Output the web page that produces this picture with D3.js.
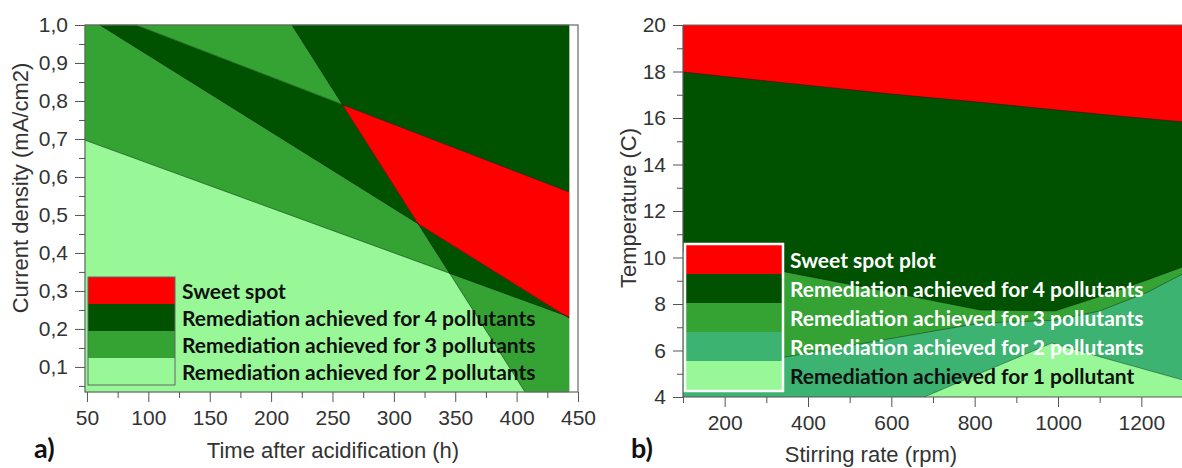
<!DOCTYPE html>
<html>
<head>
<meta charset="utf-8">
<script src="https://cdn.jsdelivr.net/npm/d3@7"></script>
<style>
  body { margin: 0; background: #fff; }
  svg { display: block; }
  .tick text { font-family: "Liberation Sans", Arial, sans-serif; font-size: 21px; fill: #333; }
  .tick line { stroke: #555; }
  .title { font-family: "Liberation Sans", Arial, sans-serif; font-size: 22px; fill: #333; }
  .leg { font-family: Lato, "Open Sans", sans-serif; font-weight: 700; font-size: 21px; }
  .panel { font-family: Lato, "Open Sans", sans-serif; font-weight: 700; font-size: 27px; fill: #111; }
</style>
</head>
<body>
<svg id="chart" width="1182" height="468"></svg>
<script>
// ---- panel a) data : time (h) vs current density (mA/cm2) ----
const timeTicks = [50, 100, 150, 200, 250, 300, 350, 400, 450];
const timeMinor = [75, 125, 175, 225, 275, 325, 375, 425];
const densityTicks = [0.1, 0.2, 0.3, 0.4, 0.5, 0.6, 0.7, 0.8, 0.9, 1.0];
const densityMinor = [0.05, 0.15, 0.25, 0.35, 0.45, 0.55, 0.65, 0.75, 0.85, 0.95];
const timeRange = [48.4, 442.7];      // extent of the response surface
const densityRange = [0.034, 1.0];
// contour boundaries: two points each, gain = side that adds one level
const boundaryA = [
  { pts: [[60.6, 1.0], [442.7, 0.229]], gain: 1 },
  { pts: [[89.9, 1.0], [442.7, 0.561]], gain: -1 },
  { pts: [[217.0, 1.0], [406.9, 0.034]], gain: 1 },
  { pts: [[48.4, 0.697], [442.7, 0.232]], gain: 1 }
];
const legendA = ['Sweet spot', 'Remediation achieved for 4 pollutants',
  'Remediation achieved for 3 pollutants', 'Remediation achieved for 2 pollutants'];

// ---- panel b) data : stirring rate (rpm) vs temperature (C) ----
const rpmTicks = [200, 400, 600, 800, 1000, 1200];
const rpmMinor = [100, 300, 500, 700, 900, 1100];
const tempTicks = [4, 6, 8, 10, 12, 14, 16, 18, 20];
const tempMinor = [5, 7, 9, 11, 13, 15, 17, 19];
const sweetEdgeRpm = [100, 350, 600, 800, 1000, 1150, 1300];
const sweetEdgeTemp = [17.98, 17.5, 17.03, 16.7, 16.34, 16.08, 15.83];
const fourEdgeRpm = [100, 345, 600, 813, 993, 1100, 1214, 1300];
const fourEdgeTemp = [10.25, 9.38, 8.5, 7.74, 7.7, 8.32, 9.03, 9.6];
const threeEdgeRpm = [100, 345, 600, 813, 993, 1100, 1214, 1300];
const threeEdgeTemp = [4.96, 5.72, 6.52, 7.18, 7.3, 7.7, 8.5, 9.3];
const oneEdgeRpm = [679, 758, 985, 1100, 1300];
const oneEdgeTemp = [4.0, 4.6, 6.32, 5.73, 4.73];
const legendB = ['Sweet spot plot', 'Remediation achieved for 4 pollutants',
  'Remediation achieved for 3 pollutants', 'Remediation achieved for 2 pollutants',
  'Remediation achieved for 1 pollutant'];

const RED = '#ff0000', DARK = '#005200', MED = '#34a334', TEAL = '#3cb371', LIGHT = '#98f898';
const levelColor = { 2: LIGHT, 3: MED, 4: DARK, 5: RED };

const svg = d3.select('#chart');
const comma = d3.formatLocale({ decimal: ',', thousands: '.', grouping: [3], currency: ['', ''] });

function clipPoly(poly, seg, keep) {
  const [[x1, y1], [x2, y2]] = seg;
  const s = (p) => keep * ((x2 - x1) * (p[1] - y1) - (y2 - y1) * (p[0] - x1));
  const out = [];
  poly.forEach((a, i) => {
    const b = poly[(i + 1) % poly.length];
    const sa = s(a), sb = s(b);
    if (sa >= 0) out.push(a);
    if ((sa >= 0) !== (sb >= 0)) {
      const t = sa / (sa - sb);
      out.push([a[0] + t * (b[0] - a[0]), a[1] + t * (b[1] - a[1])]);
    }
  });
  return out;
}

function drawAxes(g, x, y, xt, xm, yt, ym, xFmt, yFmt) {
  const [x0] = x.range(), [y0] = y.range();
  g.append('g').attr('transform', `translate(0,${y0})`)
    .call(d3.axisBottom(x).tickValues(xm).tickSize(6).tickFormat(''))
    .call((a) => a.select('.domain').remove());
  g.append('g').attr('transform', `translate(0,${y0})`)
    .call(d3.axisBottom(x).tickValues(xt).tickSize(10).tickPadding(8).tickFormat(xFmt))
    .call((a) => a.select('.domain').remove());
  g.append('g').attr('transform', `translate(${x0},0)`)
    .call(d3.axisLeft(y).tickValues(ym).tickSize(6).tickFormat(''))
    .call((a) => a.select('.domain').remove());
  g.append('g').attr('transform', `translate(${x0},0)`)
    .call(d3.axisLeft(y).tickValues(yt).tickSize(10).tickPadding(7).tickFormat(yFmt))
    .call((a) => a.select('.domain').remove());
}

// ================= panel a =================
const xA = d3.scaleLinear().domain([48.4, 450]).range([85, 578]);
const yA = d3.scaleLinear().domain([0.034, 1.0]).range([392, 25]);
const gA = svg.append('g');
const lineA = d3.line().x((d) => xA(d[0])).y((d) => yA(d[1]));

const rectA = [[timeRange[0], densityRange[0]], [timeRange[1], densityRange[0]],
  [timeRange[1], densityRange[1]], [timeRange[0], densityRange[1]]];
for (let mask = 0; mask < 16; mask++) {
  let poly = rectA, level = 1;
  boundaryA.forEach((b, i) => {
    const side = (mask >> i) & 1 ? 1 : -1;
    if (poly.length) poly = clipPoly(poly, b.pts, side);
    if (side === b.gain) level++;
  });
  if (poly.length < 3) continue;
  gA.append('path').attr('d', lineA(poly) + 'Z')
    .attr('fill', levelColor[level]).attr('stroke', levelColor[level]).attr('stroke-width', 0.6);
}
gA.selectAll('.edge').data(boundaryA).join('path').attr('class', 'edge')
  .attr('d', (d) => lineA(d.pts)).attr('fill', 'none')
  .attr('stroke', '#000').attr('stroke-opacity', 0.35).attr('stroke-width', 1);

gA.append('rect').attr('x', 85).attr('y', 25).attr('width', 493).attr('height', 367)
  .attr('fill', 'none').attr('stroke', '#666').attr('stroke-width', 1.2);
drawAxes(gA, xA, yA, timeTicks, timeMinor, densityTicks, densityMinor, d3.format('d'), comma.format('.1f'));

// legend a
const legAY = d3.scaleBand().domain(legendA).range([277, 385]);
const legAColors = [RED, DARK, MED, LIGHT];
gA.selectAll('.lega').data(legendA).join('rect').attr('class', 'lega')
  .attr('x', 88).attr('y', (d) => legAY(d)).attr('width', 87).attr('height', legAY.bandwidth())
  .attr('fill', (d, i) => legAColors[i]);
gA.append('rect').attr('x', 88).attr('y', 277).attr('width', 87).attr('height', 108)
  .attr('fill', 'none').attr('stroke', '#666').attr('stroke-width', 1);
gA.selectAll('.legta').data(legendA).join('text').attr('class', 'leg legta')
  .attr('x', 182).attr('y', (d) => legAY(d) + legAY.bandwidth() / 2 + 1)
  .attr('dy', '0.35em').attr('fill', '#111').text((d) => d);

gA.append('text').attr('class', 'title').attr('x', 333).attr('y', 458)
  .attr('text-anchor', 'middle').text('Time after acidification (h)');
gA.append('text').attr('class', 'title').attr('transform', 'translate(28,188) rotate(-90)')
  .attr('text-anchor', 'middle').text('Current density (mA/cm2)');
gA.append('text').attr('class', 'panel').attr('x', 34).attr('y', 458).text('a)');

// ================= panel b =================
const xB = d3.scaleLinear().domain([100, 1300]).range([683, 1183]);
const yB = d3.scaleLinear().domain([4, 20]).range([397, 25]);
const gB = svg.append('g');
const zip = (xs, ys) => xs.map((v, i) => [v, ys[i]]);
const areaB = d3.area().x((d) => xB(d[0])).y0(yB(4)).y1((d) => yB(d[1]));
const edgeB = d3.line().x((d) => xB(d[0])).y((d) => yB(d[1]));

gB.append('rect').attr('x', xB(100)).attr('y', yB(20))
  .attr('width', xB(1300) - xB(100)).attr('height', yB(4) - yB(20)).attr('fill', RED);
const layers = [
  { pts: zip(sweetEdgeRpm, sweetEdgeTemp), color: DARK },
  { pts: zip(fourEdgeRpm, fourEdgeTemp), color: MED },
  { pts: zip(threeEdgeRpm, threeEdgeTemp), color: TEAL },
  { pts: zip(oneEdgeRpm, oneEdgeTemp), color: LIGHT }
];
layers.forEach((l) => {
  gB.append('path').attr('d', areaB(l.pts)).attr('fill', l.color);
});
layers.forEach((l) => {
  gB.append('path').attr('d', edgeB(l.pts)).attr('fill', 'none')
    .attr('stroke', '#000').attr('stroke-opacity', 0.35).attr('stroke-width', 1);
});

gB.append('line').attr('x1', 683).attr('x2', 1182).attr('y1', 25).attr('y2', 25)
  .attr('stroke', '#666').attr('stroke-width', 1.2);
gB.append('line').attr('x1', 683).attr('x2', 683).attr('y1', 25).attr('y2', 397)
  .attr('stroke', '#555').attr('stroke-width', 1.2);
gB.append('line').attr('x1', 683).attr('x2', 1182).attr('y1', 397).attr('y2', 397)
  .attr('stroke', '#555').attr('stroke-width', 1.2);
drawAxes(gB, xB, yB, rpmTicks, rpmMinor, tempTicks, tempMinor, d3.format('d'), d3.format('d'));

// legend b
const legBY = d3.scaleBand().domain(legendB).range([245, 390]);
const legBColors = [RED, DARK, MED, TEAL, LIGHT];
gB.selectAll('.legb').data(legendB).join('rect').attr('class', 'legb')
  .attr('x', 685).attr('y', (d) => legBY(d)).attr('width', 98).attr('height', legBY.bandwidth())
  .attr('fill', (d, i) => legBColors[i]);
gB.append('rect').attr('x', 685).attr('y', 244).attr('width', 98).attr('height', 147)
  .attr('fill', 'none').attr('stroke', '#fff').attr('stroke-width', 2.5);
gB.selectAll('.legtb').data(legendB).join('text').attr('class', 'leg legtb')
  .attr('x', 790).attr('y', (d) => legBY(d) + legBY.bandwidth() / 2 + 1)
  .attr('dy', '0.35em').attr('fill', (d, i) => (i === 4 ? '#111' : '#fff')).text((d) => d);

gB.append('text').attr('class', 'title').attr('x', 871).attr('y', 462)
  .attr('text-anchor', 'middle').text('Stirring rate (rpm)');
gB.append('text').attr('class', 'title').attr('transform', 'translate(636,208) rotate(-90)')
  .attr('text-anchor', 'middle').text('Temperature (C)');
gB.append('text').attr('class', 'panel').attr('x', 631).attr('y', 458).text('b)');
</script>
</body>
</html>
